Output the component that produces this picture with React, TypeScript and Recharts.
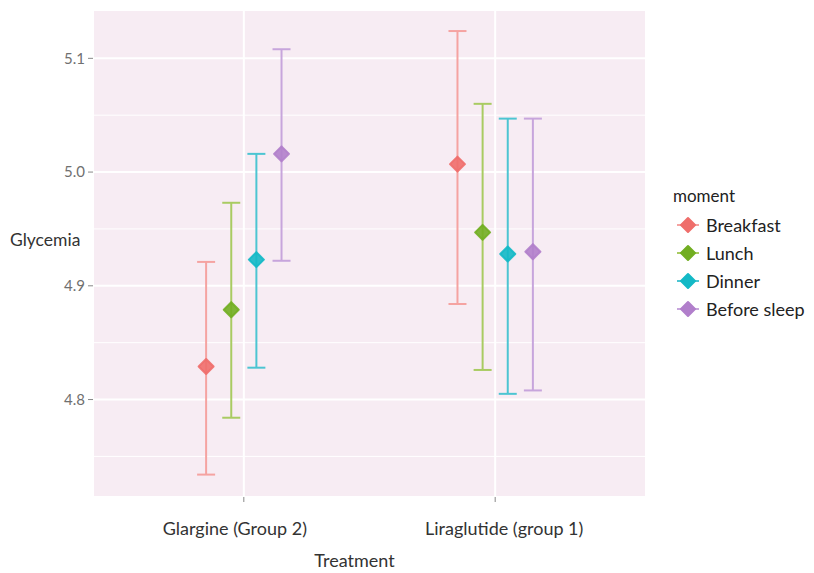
import React from 'react';
import {
  ComposedChart,
  Scatter,
  ErrorBar,
  XAxis,
  YAxis,
  CartesianGrid,
  Legend,
} from 'recharts';

const categories = ['Glargine (Group 2)', 'Liraglutide (group 1)'];
const moments = ['Breakfast', 'Lunch', 'Dinner', 'Before sleep'];

// mean glycemia per moment, one value per treatment
const breakfastMean = [4.829, 5.007];
const lunchMean = [4.879, 4.947];
const dinnerMean = [4.923, 4.928];
const sleepMean = [5.016, 4.93];

// error bar bounds
const breakfastLow = [4.734, 4.884];
const breakfastHigh = [4.921, 5.124];
const lunchLow = [4.784, 4.826];
const lunchHigh = [4.973, 5.06];
const dinnerLow = [4.828, 4.805];
const dinnerHigh = [5.016, 5.047];
const sleepLow = [4.922, 4.808];
const sleepHigh = [5.108, 5.047];

const yTicks = [4.8, 4.9, 5.0, 5.1];
const yMinorTicks = [4.75, 4.85, 4.95, 5.05];

const pointColors = ['#ef6e6b', '#72ae22', '#14b9c6', '#b17fcb'];
const barColors = ['#f5a3a1', '#a9cb62', '#4cc5d2', '#c7a5dc'];

const means = [breakfastMean, lunchMean, dinnerMean, sleepMean];
const lows = [breakfastLow, lunchLow, dinnerLow, sleepLow];
const highs = [breakfastHigh, lunchHigh, dinnerHigh, sleepHigh];

const DODGE = 0.1;
const Y_DOMAIN = [4.7143, 5.1425];

const series = moments.map((name, i) => ({
  name,
  data: categories.map((_, j) => ({
    x: j + 1 + (i - (moments.length - 1) / 2) * DODGE,
    y: means[i][j],
    err: [means[i][j] - lows[i][j], highs[i][j] - means[i][j]],
  })),
}));

const Diamond = (props: any) => {
  const { cx, cy, fill } = props;
  const r = 7.5;
  return (
    <path
      d={`M${cx},${cy - r}L${cx + r},${cy}L${cx},${cy + r}L${cx - r},${cy}Z`}
      fill={fill}
      stroke={fill}
      strokeWidth={2}
      strokeLinejoin="round"
      fillOpacity={0.9}
      strokeOpacity={0.9}
    />
  );
};

// the category labels in the original sit a little off their ticks
const CategoryTick = (props: any) => {
  const { x, y, payload, index } = props;
  const shift = index === 0 ? -9 : 9;
  return (
    <text x={x + shift} y={y} dy="0.71em" textAnchor="middle" fontSize={18} fill="#333">
      {categories[payload.value - 1]}
    </text>
  );
};

const renderLegend = () => (
  <svg width={150} height={150} style={{ overflow: 'visible' }}>
    <text x={9} y={15} dominantBaseline="central" fontSize={17} fill="#222">
      moment
    </text>
    {moments.map((m, i) => {
      const cy = 45 + i * 28;
      return (
        <g key={m}>
          <line x1={13} x2={35} y1={cy} y2={cy} stroke={barColors[i]} strokeWidth={2} />
          <path
            d={`M24,${cy - 7}L31,${cy}L24,${cy + 7}L17,${cy}Z`}
            fill={pointColors[i]}
            stroke={pointColors[i]}
            strokeWidth={2}
            strokeLinejoin="round"
          />
          <text x={42} y={cy} dominantBaseline="central" fontSize={18} fill="#222">
            {m}
          </text>
        </g>
      );
    })}
  </svg>
);

const App = () => (
  <div style={{ position: 'absolute', left: 0, top: 0, fontFamily: 'Lato, sans-serif' }}>
    <ComposedChart
      width={814}
      height={573}
      margin={{ top: 10, right: 168, bottom: 0, left: 0 }}
    >
      <CartesianGrid
        fill="#f7ecf3"
        stroke="#ffffff"
        strokeWidth={1}
        vertical={false}
        yAxisId="minor"
      />
      <CartesianGrid stroke="#ffffff" strokeWidth={2} />
      <XAxis
        type="number"
        dataKey="x"
        domain={[0.4, 2.6]}
        ticks={[1, 2]}
        allowDataOverflow
        height={76}
        axisLine={false}
        tickLine={{ stroke: '#888' }}
        tickSize={5}
        tickMargin={20}
        tick={<CategoryTick />}
        label={{ value: 'Treatment', position: 'insideBottom', offset: 6, dx: -15, fontSize: 18, fill: '#333' }}
      />
      <YAxis
        yAxisId="minor"
        type="number"
        domain={Y_DOMAIN}
        ticks={yMinorTicks}
        allowDataOverflow
        hide
      />
      <YAxis
        type="number"
        dataKey="y"
        domain={Y_DOMAIN}
        ticks={yTicks}
        tickFormatter={(v: number) => v.toFixed(1)}
        allowDataOverflow
        width={93}
        axisLine={false}
        tickLine={{ stroke: '#888' }}
        tickSize={5}
        tickMargin={3}
        tick={{ fontSize: 15, fill: '#707070' }}
        label={{ value: 'Glycemia', position: 'insideLeft', offset: 10, dy: -14, angle: 0, fontSize: 17.5, fill: '#333' }}
      />
      {series.map((s, i) => (
        <Scatter
          key={s.name}
          name={s.name}
          data={s.data}
          fill={pointColors[i]}
          shape={Diamond}
          isAnimationActive={false}
        >
          <ErrorBar
            dataKey="err"
            direction="y"
            width={9}
            stroke={barColors[i]}
            strokeWidth={2}
            isAnimationActive={false}
          />
        </Scatter>
      ))}
      <Legend
        layout="vertical"
        align="center"
        verticalAlign="middle"
        content={renderLegend}
        wrapperStyle={{ left: 664, top: 180, width: 150, height: 150 }}
      />
    </ComposedChart>
  </div>
);

export default App;
